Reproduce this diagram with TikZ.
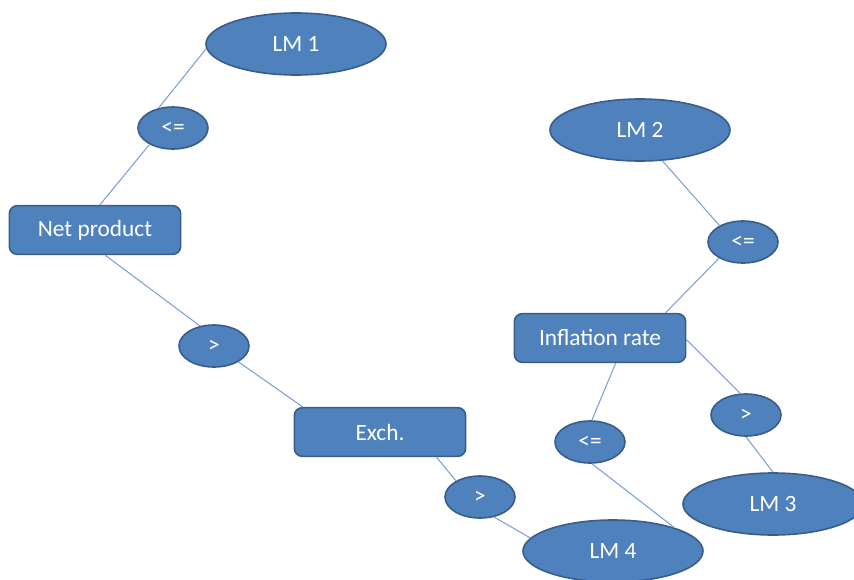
\documentclass[tikz,border=0pt]{standalone}
\usepackage{fontspec}
\setmainfont{Carlito}
\usetikzlibrary{shapes.geometric}
\definecolor{boxfill}{HTML}{4F81BD}
\definecolor{boxline}{HTML}{385D8A}
\definecolor{linkline}{HTML}{7EA1D0}
\begin{document}
\begin{tikzpicture}[x=0.75pt, y=-0.75pt,
  leaf/.style={shape=ellipse, draw=boxline, fill=boxfill, line width=1.2pt, text=white, inner sep=0pt, minimum width=135pt, minimum height=46.5pt, font=\fontsize{17.5}{19}\selectfont},
  cond/.style={shape=ellipse, draw=boxline, fill=boxfill, line width=1.2pt, text=white, inner sep=0pt, minimum width=52.5pt, minimum height=31.5pt, font=\fontsize{17.5}{19}\selectfont},
  split/.style={shape=rectangle, rounded corners=6pt, draw=boxline, fill=boxfill, line width=1.2pt, text=white, inner sep=0pt, minimum width=128.5pt, minimum height=36.5pt, font=\fontsize{17.5}{19}\selectfont},
  link/.style={-, draw=linkline, line width=0.8pt}]
\useasboundingbox (0,0) rectangle (854,579);
\node[leaf] (LM1) at (296,44) {LM 1};
\node[cond] (le1) at (173,128) {<=};
\node[split] (net) at (95,230) {Net product};
\node[cond] (gt1) at (214,346) {>};
\node[split] (exch) at (380,432) {Exch.};
\node[cond] (gt2) at (480,497) {>};
\node[leaf] (LM4) at (613,551) {LM 4};
\node[leaf] (LM2) at (640,130) {LM 2};
\node[cond] (le2) at (743,242) {<=};
\node[split] (infl) at (600,338) {Inflation rate};
\node[cond] (le3) at (590,442) {<=};
\node[cond] (gt3) at (746,415) {>};
\node[leaf] (LM3) at (773,504) {LM 3};
\path [link] (LM1.183) edge (le1.126);
\path [link] (le1.215) edge (net.79);
\path [link] (net.292) edge (gt1.125);
\path [link] (gt1.327) edge (exch.162);
\path [link] (exch.336) edge (gt2.146);
\path [link] (gt2.305) edge (LM4.171);
\path [link] (LM2.306) edge (le2.145);
\path [link] (le2.214) edge (infl.21);
\path [link] (infl.302) edge (le3.85);
\path [link] (le3.275) edge (LM4.21);
\path [link] (infl.359) edge (gt3.105);
\path [link] (gt3.270) edge (LM3.90);
\end{tikzpicture}
\end{document}
